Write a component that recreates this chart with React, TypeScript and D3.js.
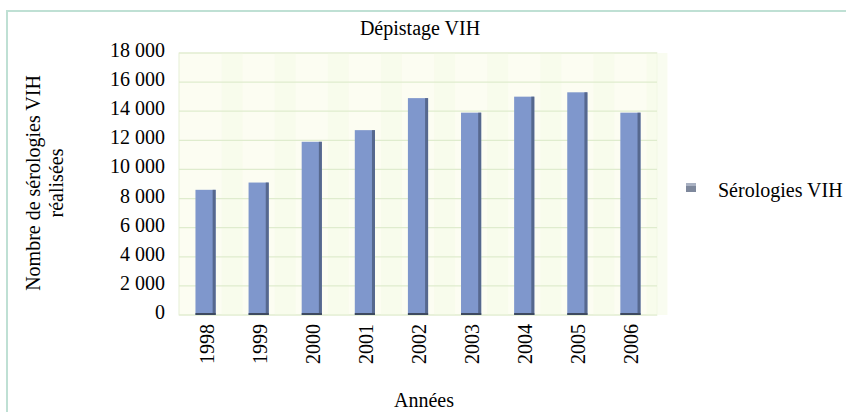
import React from 'react';
import * as d3 from 'd3';

// data
const years = ['1998', '1999', '2000', '2001', '2002', '2003', '2004', '2005', '2006'];
const serologies = [8600, 9100, 11900, 12700, 14900, 13900, 15000, 15300, 13900];
const yTicks = [0, 2000, 4000, 6000, 8000, 10000, 12000, 14000, 16000, 18000];

const width = 846;
const height = 412;
const plot = { left: 179, right: 657, top: 53, bottom: 315 };
const font = '"Liberation Serif", "Times New Roman", serif';

const fmt = (v: number) => d3.format(',')(v).replace(/,/g, ' ');

export default function App() {
  const x = d3.scaleBand<string>()
    .domain(years)
    .range([plot.left, plot.right])
    .paddingInner(0.62)
    .paddingOuter(0.31);

  const y = d3.scaleLinear().domain([0, 18000]).range([plot.bottom, plot.top]);

  const bw = x.bandwidth();

  return (
    <svg
      width={width}
      height={height}
      style={{ position: 'absolute', left: 0, top: 0, display: 'block', background: '#fff' }}
      fontFamily={font}
    >
      {/* outer frame */}
      <rect x={7} y={11} width={860} height={420} fill="#fff" stroke="#bfe0d4" strokeWidth={2} />

      <text x={420} y={35} textAnchor="middle" fontSize={20}>Dépistage VIH</text>

      {/* plot area */}
      <rect
        x={plot.left}
        y={plot.top}
        width={plot.right - plot.left}
        height={plot.bottom - plot.top}
        fill="#fcfdf2"
        stroke="#e6f0d6"
        strokeWidth={1}
      />
      {x.domain().map(d => (
        <rect
          key={'s' + d}
          x={(x(d) ?? 0) + bw + 6}
          y={plot.top}
          width={x.step() - bw - 12}
          height={plot.bottom - plot.top}
          fill="#f6fbe9"
          opacity={0.7}
        />
      ))}
      {yTicks.map(t => (
        <line
          key={'g' + t}
          x1={plot.left}
          x2={plot.right}
          y1={y(t)}
          y2={y(t)}
          stroke="#dfecce"
          strokeWidth={1.2}
        />
      ))}

      {/* bars */}
      {years.map((d, i) => {
        const bx = x(d) ?? 0;
        const top = y(serologies[i]);
        return (
          <g key={d}>
            <rect x={bx} y={top} width={bw} height={y(0) - top} fill="#7f97cc" />
            <rect x={bx + bw - 3} y={top} width={3} height={y(0) - top} fill="#4f5f82" opacity={0.85} />
            <rect x={bx} y={y(0) - 2} width={bw} height={2} fill="#3e4a60" />
          </g>
        );
      })}

      {/* y axis labels */}
      {yTicks.map(t => (
        <text key={'t' + t} x={165} y={y(t) - 3} dy="0.35em" textAnchor="end" fontSize={20}>
          {fmt(t)}
        </text>
      ))}

      {/* x axis labels */}
      {years.map(d => (
        <text
          key={'x' + d}
          transform={`translate(${(x(d) ?? 0) + bw / 2 + 8}, ${plot.bottom + 9}) rotate(-90)`}
          textAnchor="end"
          fontSize={20}
        >
          {d}
        </text>
      ))}

      {/* axis titles */}
      <text transform="translate(40, 183) rotate(-90)" textAnchor="middle" fontSize={20}>
        <tspan x={0} dy={0}>Nombre de sérologies VIH</tspan>
        <tspan x={0} dy={23}>réalisées</tspan>
      </text>
      <text x={424} y={407} textAnchor="middle" fontSize={20}>Années</text>

      {/* legend */}
      <rect x={686} y={183} width={10} height={9} fill="#7e889c" />
      <rect x={686} y={183} width={10} height={3} fill="#a9b1c2" />
      <text x={718} y={197} fontSize={20}>Sérologies VIH</text>
    </svg>
  );
}
